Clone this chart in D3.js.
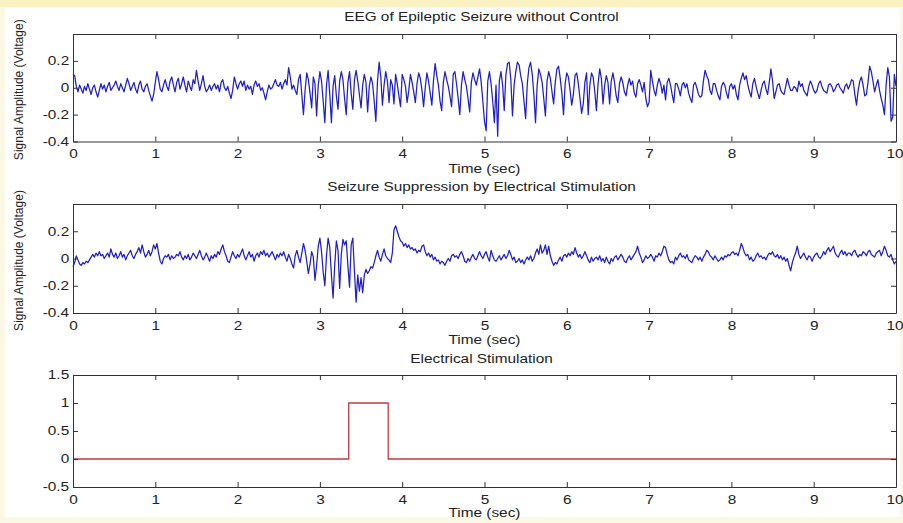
<!DOCTYPE html>
<html>
<head>
<meta charset="utf-8">
<script src="https://cdn.jsdelivr.net/npm/d3@7"></script>
<style>
  html, body { margin: 0; padding: 0; background: #fcf8e6; }
  svg { display: block; }
  text { font-family: "Liberation Sans", Arial, Helvetica, sans-serif; fill: #222; }
</style>
</head>
<body>
<svg id="chart" width="903" height="523"></svg>
<script>
// ---------------- DATA ----------------
const sampleStep = 0.02; // seconds between samples

const eegNoControl = [
  // 0.00 - 0.48
  0.10, 0.09, 0.01, -0.03, 0.02, -0.01, -0.04, 0.01, -0.02, 0.03, -0.01, -0.05, 0.00, 0.02, -0.03, -0.07, -0.02, 0.03, -0.01, 0.02, -0.03, 0.01, 0.04, -0.02, 0.00,
  // 0.50 - 0.98
  0.02, 0.05, 0.01, -0.02, 0.03, 0.00, -0.03, 0.02, 0.07, 0.03, -0.02, 0.01, 0.04, -0.01, -0.04, 0.02, 0.05, -0.01, -0.03, 0.01, 0.03, -0.02, -0.06, -0.10, -0.05,
  // 1.00 - 1.48
  0.04, 0.12, 0.06, -0.01, -0.03, 0.02, 0.06, 0.01, -0.02, 0.05, 0.08, 0.02, -0.03, 0.04, 0.07, -0.01, 0.03, 0.08, 0.02, -0.03, 0.05, 0.01, -0.02, 0.06, 0.03,
  // 1.50 - 1.98
  0.13, 0.05, -0.02, 0.03, 0.09, 0.01, -0.03, -0.01, 0.02, -0.02, 0.01, 0.03, -0.01, 0.02, -0.03, 0.04, 0.06, 0.00, -0.02, 0.01, -0.04, -0.08, -0.02, 0.08, 0.03,
  // 2.00 - 2.48
  -0.01, 0.03, 0.05, 0.01, 0.05, -0.02, 0.02, -0.01, 0.01, -0.05, 0.02, 0.05, 0.01, 0.03, -0.02, 0.00, -0.04, -0.09, -0.03, 0.02, -0.01, 0.00, 0.03, 0.06, 0.02,
  // 2.50 - 2.98
  0.01, 0.04, -0.01, 0.03, 0.06, 0.02, 0.15, 0.08, -0.01, 0.02, -0.02, -0.05, 0.06, 0.10, -0.05, -0.20, -0.02, 0.11, 0.06, -0.04, -0.15, 0.08, 0.03, -0.21, 0.02,
  // 3.00 - 3.48
  0.12, 0.05, -0.10, -0.26, 0.02, 0.13, -0.05, -0.26, 0.01, 0.09, -0.06, -0.16, 0.05, 0.12, 0.06, -0.08, -0.20, 0.04, 0.12, -0.04, -0.16, 0.06, 0.13, 0.05, -0.05,
  // 3.50 - 3.98
  -0.15, 0.02, 0.10, 0.04, -0.18, 0.01, 0.08, 0.03, -0.10, -0.25, 0.05, 0.19, 0.08, -0.13, 0.02, 0.12, 0.05, -0.11, 0.06, 0.02, -0.12, 0.10, 0.03, -0.06, -0.14,
  // 4.00 - 4.48
  0.10, 0.06, 0.01, -0.11, -0.02, 0.10, 0.04, -0.03, -0.11, 0.03, 0.11, 0.07, -0.02, -0.14, 0.00, 0.11, 0.05, -0.04, -0.13, 0.05, 0.18, 0.09, 0.02, -0.10, -0.17,
  // 4.50 - 4.98
  0.04, 0.12, 0.06, 0.01, -0.06, -0.14, 0.10, 0.12, 0.03, -0.08, -0.20, 0.02, 0.12, 0.06, 0.01, -0.08, -0.18, 0.04, 0.11, 0.06, 0.02, 0.08, 0.14, 0.04, -0.10,
  // 5.00 - 5.48
  -0.25, -0.32, 0.05, 0.12, 0.03, -0.10, -0.26, 0.02, -0.36, 0.05, 0.12, 0.02, -0.17, 0.10, 0.18, 0.19, 0.06, -0.21, 0.02, 0.12, 0.19, 0.17, 0.09, 0.03, -0.10,
  // 5.50 - 5.98
  -0.23, 0.03, 0.15, 0.19, 0.10, -0.05, -0.26, 0.02, 0.14, 0.10, 0.04, -0.08, -0.21, 0.05, 0.12, 0.07, -0.03, -0.12, 0.04, 0.14, 0.16, 0.07, -0.04, -0.20, 0.03,
  // 6.00 - 6.48
  0.11, 0.08, -0.02, -0.13, -0.05, 0.09, 0.11, 0.03, -0.08, -0.19, -0.12, 0.04, 0.11, -0.20, 0.02, 0.11, 0.08, -0.03, -0.17, 0.03, 0.14, 0.07, -0.12, 0.02, 0.09,
  // 6.50 - 6.98
  0.04, -0.12, 0.05, 0.11, 0.04, -0.06, -0.11, 0.03, 0.08, 0.04, -0.03, -0.06, 0.02, 0.07, 0.02, 0.05, -0.04, -0.07, 0.03, 0.06, 0.02, -0.03, 0.04, -0.08, -0.14,
  // 7.00 - 7.48
  -0.11, 0.13, 0.05, -0.02, -0.06, 0.02, 0.07, 0.03, -0.04, 0.02, -0.09, 0.04, 0.07, 0.02, -0.05, -0.11, 0.03, 0.03, -0.01, -0.06, 0.02, 0.04, 0.00, 0.03, -0.04,
  // 7.50 - 7.98
  -0.08, -0.11, 0.02, 0.04, 0.00, -0.05, -0.07, -0.06, 0.05, 0.13, 0.09, 0.06, -0.02, -0.05, 0.03, 0.03, -0.02, -0.06, -0.09, 0.01, 0.04, 0.02, -0.04, -0.08, 0.01,
  // 8.00 - 8.48
  0.03, -0.01, 0.02, -0.05, -0.09, 0.02, 0.07, 0.11, 0.06, 0.09, 0.02, -0.03, -0.07, 0.03, 0.07, 0.01, -0.04, -0.08, -0.02, 0.03, 0.05, -0.01, -0.05, 0.04, 0.14,
  // 8.50 - 8.98
  0.05, -0.08, -0.03, 0.02, 0.03, -0.02, -0.04, -0.05, 0.01, 0.07, 0.02, -0.02, -0.02, 0.01, 0.00, -0.03, 0.05, 0.01, 0.03, -0.02, -0.04, -0.06, 0.01, 0.05, 0.02,
  // 9.00 - 9.48
  -0.02, -0.04, -0.02, 0.03, 0.05, 0.01, -0.02, -0.03, -0.04, 0.02, 0.03, 0.01, -0.03, -0.01, 0.02, 0.03, 0.00, -0.02, -0.04, 0.01, 0.03, -0.01, 0.02, 0.06, 0.05,
  // 9.50 - 10.00
  -0.05, -0.13, -0.02, 0.05, 0.08, 0.02, -0.06, -0.05, 0.04, 0.16, 0.12, 0.05, -0.03, 0.02, 0.06, -0.02, -0.08, -0.13, -0.20, 0.02, 0.15, 0.08, -0.25, -0.22, 0.10, 0.01
];

const eegStimulated = [
  // 0.00 - 0.48
  -0.06, -0.03, 0.02, -0.01, -0.04, -0.05, -0.03, -0.04, -0.02, -0.03, -0.01, 0.01, 0.03, 0.01, 0.04, 0.02, 0.05, 0.02, 0.03, 0.00, 0.02, 0.04, 0.01, 0.07, 0.03,
  // 0.50 - 0.98
  0.01, 0.04, 0.00, 0.02, 0.05, 0.01, 0.03, -0.01, 0.02, 0.04, 0.06, 0.02, 0.00, 0.03, 0.05, 0.08, 0.04, 0.10, 0.05, 0.01, 0.03, 0.06, 0.02, 0.05, 0.10,
  // 1.00 - 1.48
  0.07, 0.11, 0.04, -0.02, -0.04, 0.00, 0.02, 0.01, 0.03, -0.01, 0.02, 0.00, 0.01, 0.03, 0.02, 0.05, 0.01, -0.01, 0.02, 0.00, 0.03, -0.01, 0.01, 0.04, 0.02,
  // 1.50 - 1.98
  0.00, 0.03, 0.06, 0.02, -0.01, 0.01, 0.04, 0.01, -0.02, 0.02, 0.00, 0.03, 0.01, 0.05, 0.03, 0.07, 0.10, 0.05, 0.02, -0.02, -0.03, 0.01, 0.05, 0.02, 0.00,
  // 2.00 - 2.48
  0.03, 0.01, 0.04, 0.07, 0.02, -0.01, 0.02, 0.05, 0.01, 0.03, -0.02, 0.02, 0.04, 0.01, 0.05, 0.03, 0.06, 0.02, 0.04, 0.01, 0.03, 0.05, 0.02, -0.01, 0.03,
  // 2.50 - 2.98
  0.01, 0.04, 0.02, 0.05, 0.01, -0.02, 0.03, 0.00, -0.04, -0.07, 0.02, 0.06, 0.01, -0.03, 0.04, 0.11, 0.06, -0.02, -0.11, -0.04, 0.05, 0.01, -0.16, -0.05, 0.09,
  // 3.00 - 3.48
  0.15, 0.05, -0.10, -0.20, 0.02, 0.15, 0.08, -0.12, -0.29, -0.05, 0.13, 0.06, -0.22, 0.03, 0.14, 0.10, 0.13, -0.05, -0.21, 0.10, 0.15, -0.10, -0.32, -0.12, -0.24,
  // 3.50 - 3.98
  -0.14, -0.25, -0.12, -0.08, -0.11, -0.09, -0.06, -0.07, -0.03, 0.02, 0.06, 0.01, -0.02, 0.03, 0.07, 0.02, 0.00, -0.01, -0.03, 0.04, 0.21, 0.24, 0.20, 0.16, 0.13,
  // 4.00 - 4.48
  0.12, 0.09, 0.11, 0.08, 0.10, 0.07, 0.08, 0.06, 0.07, 0.04, 0.06, 0.05, 0.09, 0.10, 0.05, 0.02, 0.04, 0.01, 0.03, -0.01, 0.01, -0.02, -0.01, -0.04, -0.02,
  // 4.50 - 4.98
  -0.03, -0.05, -0.02, 0.00, -0.02, 0.02, 0.03, 0.01, 0.02, 0.00, 0.03, 0.05, 0.02, -0.02, -0.03, 0.00, -0.02, 0.01, 0.03, 0.00, -0.01, 0.02, 0.05, 0.02, 0.00,
  // 5.00 - 5.48
  0.03, 0.05, 0.01, -0.02, 0.06, 0.02, -0.01, -0.02, 0.00, 0.02, -0.01, 0.01, 0.03, 0.00, 0.02, 0.06, 0.03, -0.01, 0.01, -0.03, -0.02, 0.00, -0.03, -0.01, -0.04,
  // 5.50 - 5.98
  -0.01, 0.01, -0.01, 0.02, -0.02, 0.00, 0.04, 0.07, 0.03, 0.10, 0.04, 0.06, 0.10, 0.03, 0.09, 0.02, -0.02, -0.05, -0.03, -0.04, -0.01, 0.01, -0.02, 0.02, 0.03,
  // 6.00 - 6.48
  0.01, 0.04, 0.02, 0.05, 0.03, 0.08, 0.04, 0.01, 0.03, 0.00, 0.02, 0.05, 0.02, -0.01, -0.03, 0.01, -0.02, 0.00, 0.01, -0.01, 0.02, -0.02, 0.00, -0.03, 0.01,
  // 6.50 - 6.98
  -0.02, -0.04, 0.00, -0.02, 0.01, 0.02, -0.01, 0.01, 0.03, 0.01, -0.02, -0.03, 0.00, 0.02, -0.01, 0.01, 0.03, 0.05, 0.09, 0.04, 0.01, -0.03, -0.01, 0.02, 0.00,
  // 7.00 - 7.48
  0.01, 0.03, 0.01, -0.02, 0.02, 0.01, 0.04, 0.02, 0.05, 0.09, 0.08, 0.03, -0.01, -0.03, -0.02, -0.04, 0.01, -0.01, 0.02, 0.04, 0.01, 0.02, 0.00, 0.03, -0.01,
  // 7.50 - 7.98
  -0.02, -0.03, 0.00, 0.02, 0.01, -0.01, 0.01, -0.02, 0.01, 0.03, 0.06, 0.05, 0.02, 0.01, -0.01, 0.02, 0.00, -0.02, -0.01, 0.01, -0.01, 0.02, 0.01, 0.03, 0.02,
  // 8.00 - 8.48
  0.04, 0.05, 0.03, 0.04, 0.02, 0.06, 0.11, 0.08, 0.04, 0.02, 0.03, -0.01, 0.01, -0.02, -0.01, 0.02, 0.04, 0.01, 0.02, 0.00, 0.01, -0.01, 0.02, 0.04, 0.03,
  // 8.50 - 8.98
  0.05, 0.02, 0.01, 0.03, 0.00, 0.02, -0.01, 0.01, -0.02, 0.00, -0.05, -0.09, -0.03, 0.01, 0.04, 0.09, 0.03, 0.00, 0.02, 0.04, 0.01, -0.01, 0.02, 0.01, -0.02,
  // 9.00 - 9.48
  0.01, 0.03, 0.04, 0.01, 0.00, 0.02, 0.05, 0.03, 0.06, 0.08, 0.05, 0.07, 0.09, 0.04, 0.02, 0.01, 0.04, 0.06, 0.03, 0.05, 0.02, 0.04, 0.04, 0.02, 0.05,
  // 9.50 - 10.00
  0.06, 0.03, 0.01, 0.03, 0.02, 0.05, 0.04, 0.02, 0.05, 0.06, 0.03, 0.02, 0.01, 0.04, 0.05, 0.06, 0.02, 0.05, 0.09, 0.06, 0.02, 0.01, 0.03, -0.01, -0.04, -0.02
];

const stimTime  = [0, 3.35, 3.35, 3.83, 3.83, 10];
const stimValue = [0, 0, 1, 1, 0, 0];

const xTicks = [0, 1, 2, 3, 4, 5, 6, 7, 8, 9, 10];
const eegYTicks = [-0.4, -0.2, 0, 0.2];
const stimYTicks = [-0.5, 0, 0.5, 1, 1.5];

const titles = ["EEG of Epileptic Seizure without Control",
                "Seizure Suppression by Electrical Stimulation",
                "Electrical Stimulation"];
const xLabel = "Time (sec)";
const yLabel = "Signal Amplitude (Voltage)";

// ---------------- DRAW ----------------
const svg = d3.select("#chart");
const STRETCH = 1.28;   // the reference lettering is horizontally widened

svg.append("rect").attr("x", 0).attr("y", 0).attr("width", 903).attr("height", 523).attr("fill", "#fcf8e6");
svg.append("rect").attr("x", 0).attr("y", 0).attr("width", 903).attr("height", 7).attr("fill", "#fbf2c2");
svg.append("rect").attr("x", 5).attr("y", 8).attr("width", 895).attr("height", 509).attr("fill", "#ffffff");

const left = 73, right = 896;

const panels = [
  { top: 34, bottom: 141.5, domain: [-0.4, 0.4], ticks: eegYTicks, fmt: d => d === 0 ? "0" : String(d),
    title: titles[0], titleY: 18, xLabY: 170, yLab: true,
    series: eegNoControl.map((v, i) => [i * sampleStep, v]), color: "#1f1fc4", width: 1.25 },
  { top: 204, bottom: 313, domain: [-0.4, 0.4], ticks: eegYTicks, fmt: d => d === 0 ? "0" : String(d),
    title: titles[1], titleY: 188, xLabY: 341, yLab: true,
    series: eegStimulated.map((v, i) => [i * sampleStep, v]), color: "#1f1fc4", width: 1.25 },
  { top: 375, bottom: 487, domain: [-0.5, 1.5], ticks: stimYTicks, fmt: d => String(d),
    title: titles[2], titleY: 360, xLabY: 514, yLab: false,
    series: stimTime.map((t, i) => [t, stimValue[i]]), color: "#c23b3b", width: 1.3 }
];

const x = d3.scaleLinear().domain([0, 10]).range([left, right]);

panels.forEach(p => {
  const y = d3.scaleLinear().domain(p.domain).range([p.bottom, p.top]);
  const g = svg.append("g");

  g.append("rect").attr("x", left).attr("y", p.top)
    .attr("width", right - left).attr("height", p.bottom - p.top).attr("fill", "#fff");

  const line = d3.line().x(d => x(d[0])).y(d => y(d[1]));
  g.append("path").datum(p.series)
    .attr("d", line).attr("fill", "none")
    .attr("stroke", p.color).attr("stroke-width", p.width).attr("stroke-linejoin", "round");

  const bottomAxis = d3.axisBottom(x).tickValues(xTicks).tickSizeInner(-5).tickSizeOuter(0).tickPadding(8).tickFormat(d3.format("d"));
  const topAxis = d3.axisTop(x).tickValues(xTicks).tickSizeInner(-5).tickSizeOuter(0).tickFormat("");
  const leftAxis = d3.axisLeft(y).tickValues(p.ticks).tickSizeInner(-5).tickSizeOuter(0).tickPadding(3).tickFormat(p.fmt);
  const rightAxis = d3.axisRight(y).tickValues(p.ticks).tickSizeInner(-5).tickSizeOuter(0).tickFormat("");

  const styleAxis = sel => {
    sel.select(".domain").attr("stroke", "#333").attr("stroke-width", 1);
    sel.selectAll(".tick line").attr("stroke", "#333");
    sel.selectAll(".tick text").style("font-size", "12px").attr("fill", "#222")
      .style("font-family", '"Liberation Sans", Arial, sans-serif');
  };
  const bx = g.append("g").attr("transform", `translate(0,${p.bottom})`).call(bottomAxis).call(styleAxis);
  bx.selectAll(".tick text").attr("transform", `scale(${STRETCH},1)`);
  // keep the last label ("10") inside the page edge
  bx.selectAll(".tick text").filter(d => d === 10).attr("text-anchor", "end").attr("x", 5.5);
  g.append("g").attr("transform", `translate(0,${p.top})`).call(topAxis).call(styleAxis);
  g.append("g").attr("transform", `translate(${left},0)`).call(leftAxis).call(styleAxis)
    .selectAll(".tick text").attr("transform", `scale(${STRETCH},1)`);
  g.append("g").attr("transform", `translate(${right},0)`).call(rightAxis).call(styleAxis);

  const hText = (cx, cy, s) => g.append("text")
    .attr("transform", `translate(${cx},${cy}) scale(${STRETCH},1)`)
    .attr("text-anchor", "middle").attr("dominant-baseline", "middle")
    .style("font-size", "12px").text(s);

  hText((left + right) / 2 - 3, p.titleY, p.title);
  hText((left + right) / 2, p.xLabY, xLabel);

  if (p.yLab) {
    g.append("text")
      .attr("transform", `translate(20,${(p.top + p.bottom) / 2 + 2}) rotate(-90)`)
      .attr("text-anchor", "middle").attr("dominant-baseline", "middle")
      .style("font-size", "12px").text(yLabel);
  }
});
</script>
</body>
</html>
